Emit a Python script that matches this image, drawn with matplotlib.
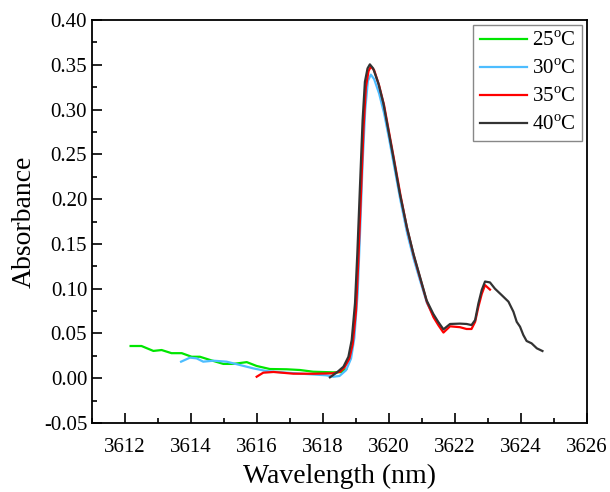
import matplotlib
matplotlib.use('Agg')
import matplotlib.pyplot as plt
from matplotlib.ticker import MultipleLocator, FormatStrFormatter

plt.rcParams['font.family'] = ['Liberation Serif', 'DejaVu Serif']
plt.rcParams['mathtext.fontset'] = 'custom'
plt.rcParams['mathtext.rm'] = 'Liberation Serif'
plt.rcParams['axes.unicode_minus'] = False

# 25 C
wl_25 = [3612.17, 3612.5, 3612.86, 3613.11, 3613.41, 3613.72, 3614.02, 3614.27, 3614.58,
         3614.98, 3615.28, 3615.69, 3615.99, 3616.39, 3616.9, 3617.3, 3617.7, 3618.3, 3618.55,
         3618.7]
abs_25 = [0.036, 0.036, 0.0305, 0.0315, 0.028, 0.028, 0.024, 0.024, 0.0204,
          0.016, 0.016, 0.018, 0.0137, 0.0103, 0.010, 0.0092, 0.0073, 0.0066, 0.0068,
          0.010]

# 30 C
wl_30 = [3613.7, 3613.97, 3614.17, 3614.37, 3614.68, 3615.08, 3615.48, 3615.89, 3616.29,
         3616.9, 3617.5, 3618.1, 3618.31, 3618.5, 3618.7, 3618.85, 3618.95, 3619.05, 3619.12,
         3619.2, 3619.28, 3619.36, 3619.45, 3619.55, 3619.7, 3619.85, 3620.0, 3620.15,
         3620.35, 3620.55, 3620.75, 3620.95, 3621.15, 3621.35, 3621.5]
abs_30 = [0.0185, 0.023, 0.0222, 0.0185, 0.0196, 0.0185, 0.0148, 0.011, 0.008,
          0.0062, 0.0047, 0.0033, 0.0017, 0.0025, 0.009, 0.022, 0.045, 0.095, 0.16,
          0.24, 0.30, 0.332, 0.339, 0.334, 0.318, 0.296, 0.268, 0.238,
          0.198, 0.162, 0.133, 0.108, 0.084, 0.070, 0.062]

# 35 C
wl_35 = [3615.99, 3616.19, 3616.5, 3617.1, 3617.7, 3618.3, 3618.52, 3618.65, 3618.8,
         3618.9, 3619.0, 3619.07, 3619.15, 3619.23, 3619.3, 3619.38, 3619.45, 3619.55,
         3619.7, 3619.85, 3620.0, 3620.15, 3620.35, 3620.55, 3620.75, 3620.95, 3621.15,
         3621.35, 3621.5, 3621.65, 3621.85, 3622.15, 3622.35, 3622.5, 3622.61, 3622.71,
         3622.81, 3622.91, 3623.06]
abs_35 = [0.0017, 0.0062, 0.007, 0.0051, 0.005, 0.0055, 0.0073, 0.012, 0.022,
          0.038, 0.075, 0.13, 0.205, 0.28, 0.325, 0.343, 0.348, 0.344,
          0.327, 0.305, 0.275, 0.245, 0.204, 0.167, 0.137, 0.111, 0.085,
          0.068, 0.059, 0.051, 0.058, 0.057, 0.055, 0.055, 0.063, 0.080,
          0.094, 0.104, 0.099]

# 40 C
wl_40 = [3618.21, 3618.41, 3618.62, 3618.77, 3618.87, 3618.97, 3619.04, 3619.12, 3619.2,
         3619.27, 3619.35, 3619.42, 3619.52, 3619.68, 3619.83, 3619.98, 3620.13, 3620.33,
         3620.54, 3620.74, 3620.94, 3621.14, 3621.34, 3621.49, 3621.65, 3621.85, 3622.15,
         3622.35, 3622.5, 3622.61, 3622.71, 3622.81, 3622.91, 3623.06, 3623.21, 3623.41,
         3623.62, 3623.77, 3623.87, 3623.97, 3624.07, 3624.17, 3624.32, 3624.48, 3624.65]
abs_40 = [0.001, 0.0062, 0.0129, 0.024, 0.0427, 0.0837, 0.139, 0.214, 0.288,
          0.331, 0.346, 0.3505, 0.346, 0.329, 0.307, 0.277, 0.247, 0.206,
          0.169, 0.139, 0.113, 0.087, 0.072, 0.063, 0.0546, 0.0606, 0.061,
          0.0606, 0.0594, 0.065, 0.0837, 0.0985, 0.108, 0.107, 0.100, 0.093,
          0.0855, 0.0743, 0.063, 0.0576, 0.0483, 0.0416, 0.039, 0.0334, 0.0304]

series = [
    (wl_25, abs_25, '#00e600', '25$^{\\rm o}$C'),
    (wl_30, abs_30, '#4dbdff', '30$^{\\rm o}$C'),
    (wl_35, abs_35, '#ff0000', '35$^{\\rm o}$C'),
    (wl_40, abs_40, '#333333', '40$^{\\rm o}$C'),
]

fig = plt.figure(figsize=(6.1, 4.92), dpi=100)
ax = fig.add_axes([0.1508, 0.1402, 0.8115, 0.8191])

for wl, ab, color, label in series:
    ax.plot(wl, ab, color=color, lw=1.6, label=label)

ax.set_xlim(3611, 3626)
ax.set_ylim(-0.05, 0.40)
ax.xaxis.set_major_locator(MultipleLocator(2))
ax.xaxis.set_minor_locator(MultipleLocator(1))
ax.yaxis.set_major_locator(MultipleLocator(0.05))
ax.yaxis.set_minor_locator(MultipleLocator(0.025))
ax.yaxis.set_major_formatter(FormatStrFormatter('%.2f'))
ax.tick_params(which='both', direction='in', labelsize=15, width=1.2)
ax.tick_params(which='major', length=7)
ax.tick_params(which='minor', length=3.5)
ax.tick_params(axis='x', pad=11)
for sp in ax.spines.values():
    sp.set_linewidth(1.3)

ax.set_xlabel('Wavelength (nm)', fontsize=20, labelpad=5)
ax.set_ylabel('Absorbance', fontsize=20, labelpad=5)

leg = ax.legend(loc='upper right', fontsize=15, fancybox=False, framealpha=1,
                edgecolor='#888888', handlelength=2.25, handletextpad=0.25,
                labelspacing=0.4, borderpad=0.3, borderaxespad=0.25)
leg.get_frame().set_linewidth(1.0)

fig.savefig('out.png', dpi=100)
